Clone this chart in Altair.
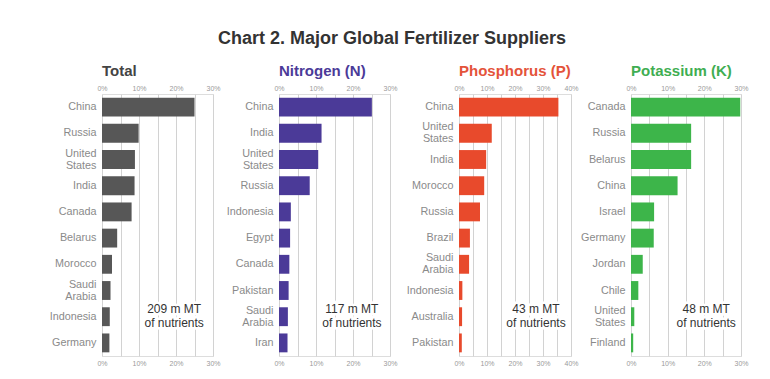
import altair as alt
import pandas as pd

main_title = "Chart 2. Major Global Fertilizer Suppliers"

panel_titles = ["Total", "Nitrogen (N)", "Phosphorus (P)", "Potassium (K)"]
bar_colors = ["#575757", "#4b3a98", "#e84a2c", "#3db54a"]
title_colors = ["#444444", "#4b3a98", "#e4533a", "#3fae52"]

total_countries = ["China", "Russia", "United States", "India", "Canada",
                   "Belarus", "Morocco", "Saudi Arabia", "Indonesia", "Germany"]
total_values = [25.0, 9.9, 8.9, 8.8, 8.0, 4.1, 2.7, 2.3, 2.1, 2.0]

nitrogen_countries = ["China", "India", "United States", "Russia", "Indonesia",
                      "Egypt", "Canada", "Pakistan", "Saudi Arabia", "Iran"]
nitrogen_values = [25.1, 11.5, 10.6, 8.3, 3.2, 3.0, 2.8, 2.6, 2.4, 2.3]

phosphorus_countries = ["China", "United States", "India", "Morocco", "Russia",
                        "Brazil", "Saudi Arabia", "Indonesia", "Australia", "Pakistan"]
phosphorus_values = [35.5, 11.7, 9.7, 9.0, 7.5, 3.9, 3.6, 1.2, 1.1, 1.0]

potassium_countries = ["Canada", "Russia", "Belarus", "China", "Israel",
                       "Germany", "Jordan", "Chile", "United States", "Finland"]
potassium_values = [29.8, 16.4, 16.4, 12.7, 6.3, 6.2, 3.2, 2.0, 0.9, 0.6]

notes = [["209 m MT", "of nutrients"], ["117 m MT", "of nutrients"],
         ["43 m MT", "of nutrients"], ["48 m MT", "of nutrients"]]
note_x = [19.5, 19.7, 27.5, 20.5]

x_max = [30, 30, 40, 30]
grid_values = [[0, 5, 10, 15, 20, 25, 30], [0, 5, 10, 15, 20, 25, 30],
               [0, 5, 10, 15, 20, 25, 30, 35, 40], [0, 5, 10, 15, 20, 25, 30]]
label_values = [[0, 10, 20, 30], [0, 10, 20, 30], [0, 10, 20, 30, 40], [0, 10, 20, 30]]

widths = [111, 111, 112, 110]
extents = [88, 57, 60, 51]

countries_all = [total_countries, nitrogen_countries, phosphorus_countries, potassium_countries]
values_all = [total_values, nitrogen_values, phosphorus_values, potassium_values]

FONT = "Liberation Sans"
PLOT_H = 262


def panel(i):
    df = pd.DataFrame({"country": countries_all[i], "value": values_all[i]})
    note_df = pd.DataFrame({"xpos": [note_x[i]]})
    xscale = alt.Scale(domain=[0, x_max[i]], nice=False, zero=True)
    yenc = alt.Y(
        "country:N", sort=countries_all[i],
        scale=alt.Scale(paddingInner=0.28, paddingOuter=0.14),
        axis=alt.Axis(title=None, ticks=False, domain=False,
                      labelExpr="split(datum.label, ' ')",
                      labelOffset={"condition": {"test": "indexof(datum.value, ' ') >= 0",
                                                 "value": -6}, "value": 0},
                      labelFontSize=10.8, labelColor="#8a8a8a", labelPadding=6,
                      labelLineHeight=12, labelFont=FONT,
                      minExtent=extents[i], maxExtent=extents[i]),
    )
    bars = alt.Chart(df).mark_bar(color=bar_colors[i]).encode(
        x=alt.X("value:Q", scale=xscale,
                axis=alt.Axis(orient="top", title=None, values=grid_values[i],
                              labelExpr="datum.value % 10 == 0 ? datum.value + '%' : ''",
                              labelFlush=False,
                              grid=True, gridColor="#d2d2d2", gridWidth=1,
                              ticks=False, domain=False, labelFontSize=7,
                              labelColor="#9a9a9a", labelPadding=3, labelFont=FONT)),
        y=yenc,
    )
    halo = alt.Chart(note_df).mark_text(
        text=notes[i], lineHeight=14, fontSize=12, font=FONT, align="center",
        baseline="middle", stroke="white", strokeWidth=5, fill="white",
    ).encode(x=alt.X("xpos:Q", scale=xscale, axis=None), y=alt.value(215))
    text = alt.Chart(note_df).mark_text(
        text=notes[i], lineHeight=14, fontSize=12, font=FONT, align="center",
        baseline="middle", color="#333333",
    ).encode(
        x=alt.X("xpos:Q", scale=xscale,
                axis=alt.Axis(orient="bottom", title=None, values=label_values[i],
                              labelExpr="datum.value + '%'", labelFlush=False,
                              grid=False, ticks=False, domain=False, labelFontSize=7,
                              labelColor="#9a9a9a", labelPadding=3, labelFont=FONT)),
        y=alt.value(215),
    )
    return alt.layer(bars, halo, text).resolve_axis(x="independent").properties(
        width=widths[i], height=PLOT_H,
        title=alt.TitleParams(panel_titles[i], anchor="start", frame="group",
                              color=title_colors[i], fontSize=15, fontWeight="bold",
                              font=FONT, offset=5),
    )


chart = alt.hconcat(*[panel(i) for i in range(4)], spacing=0).properties(
    title=alt.TitleParams(main_title, fontSize=18, fontWeight="bold", color="#333333",
                          font=FONT, anchor="middle", offset=16, dx=11),
    padding={"left": 5, "top": 21, "right": 5, "bottom": 0},
).configure_view(stroke=None).configure(font=FONT)

chart.save("out.html", embed_options={"renderer": "svg", "actions": False})
